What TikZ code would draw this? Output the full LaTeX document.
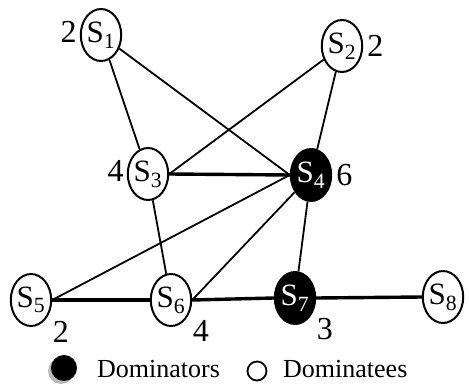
\documentclass[tikz,border=0pt]{standalone}
\usepackage{fontspec}
\setmainfont{Liberation Serif}
\usetikzlibrary{shapes.geometric}

\begin{document}
\begin{tikzpicture}[
  x=1pt,y=-1pt,
  font=\fontsize{31}{31}\selectfont,
  sensor/.style={draw,ellipse,line width=2pt,minimum width=40pt,minimum height=52pt,inner sep=0pt,fill=white},
  dom/.style={sensor,fill=black,text=white},
  lbl/.style={font=\fontsize{32}{32}\selectfont,inner sep=0pt},
  link/.style={line width=1.8pt},
  heavy/.style={line width=3.4pt},
  key/.style={font=\fontsize{26}{26}\selectfont,inner sep=0pt,anchor=base west},
]
\useasboundingbox (0,0) rectangle (469,385);

% sensors with their degrees
\node[sensor,label={[lbl,label distance=3pt,yshift=3pt]left:2}] (s1) at (101,35) {S\textsubscript{1}};
\node[sensor,label={[lbl,label distance=4pt]right:2}] (s2) at (342,46) {S\textsubscript{2}};
\node[sensor,label={[lbl,label distance=3pt,yshift=3pt]left:4}] (s3) at (148,174) {S\textsubscript{3}};
\node[dom,label={[lbl,label distance=4pt]right:6}] (s4) at (311,175) {S\textsubscript{4}};
\node[sensor,label={[lbl,xshift=5pt,yshift=-4pt]-45:2}] (s5) at (31,300) {S\textsubscript{5}};
\node[sensor,label={[lbl,xshift=5pt,yshift=-4pt]-45:4}] (s6) at (171,300) {S\textsubscript{6}};
\node[dom,label={[lbl,xshift=5pt,yshift=-3pt]-45:3}] (s7) at (295,298) {S\textsubscript{7}};
\node[sensor] (s8) at (443,297) {S\textsubscript{8}};

% links
\draw[link] (s1) -- (s3);
\draw[link] (s1) -- (s4.west);
\draw[link] (s2) -- (s3.east);
\draw[link] (s2) -- (s4);
\draw[heavy] (s3.east) -- (s4.west);
\draw[link] (s3) -- (s6);
\draw[link] (s4.west) -- (s5.east);
\draw[link] (s4) -- (s6.east);
\draw[link] (s4) -- (s7);
\draw[heavy] (s5.east) -- (s6.west);
\draw[heavy] (s6.east) -- (s7.west);
\draw[heavy] (s7.east) -- (s8.west);

% legend
\fill[gray!55] (61,371) circle (13);
\node[circle,fill=black,minimum size=26pt,inner sep=0pt] (domkey) at (64,368) {};
\node[key] (domtxt) at (97,377) {Dominators};
\node[circle,draw,line width=1.8pt,minimum size=19pt,inner sep=0pt] (subkey) at (257,371) {};
\node[key] (subtxt) at (283,377) {Dominatees};
\end{tikzpicture}
\end{document}
